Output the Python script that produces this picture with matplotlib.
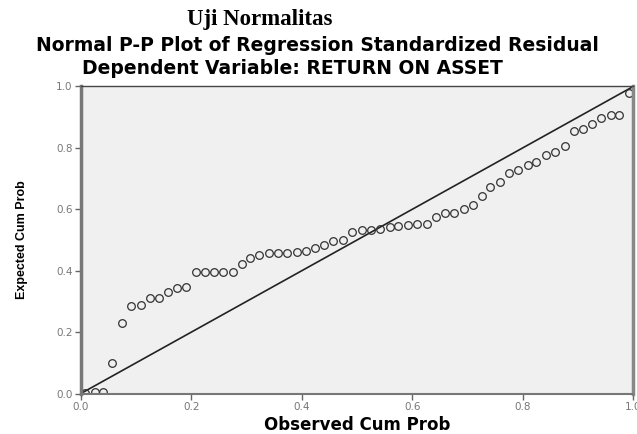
import matplotlib.pyplot as plt

# P-P plot values
observed = [0.007, 0.025, 0.040, 0.057, 0.075, 0.091, 0.108, 0.125, 0.142, 0.158,
            0.174, 0.191, 0.208, 0.225, 0.241, 0.258, 0.275, 0.291, 0.307, 0.323,
            0.341, 0.357, 0.374, 0.391, 0.408, 0.424, 0.440, 0.457, 0.475, 0.490,
            0.509, 0.525, 0.542, 0.559, 0.575, 0.593, 0.609, 0.626, 0.643, 0.659,
            0.676, 0.693, 0.710, 0.726, 0.741, 0.759, 0.776, 0.792, 0.809, 0.824,
            0.842, 0.859, 0.877, 0.892, 0.910, 0.925, 0.942, 0.959, 0.975, 0.993]
expected = [0.003, 0.004, 0.006, 0.100, 0.229, 0.286, 0.288, 0.310, 0.310, 0.332,
            0.343, 0.346, 0.396, 0.396, 0.396, 0.396, 0.396, 0.422, 0.440, 0.451,
            0.457, 0.459, 0.459, 0.460, 0.465, 0.473, 0.484, 0.498, 0.500, 0.527,
            0.533, 0.533, 0.535, 0.541, 0.546, 0.549, 0.552, 0.552, 0.574, 0.587,
            0.589, 0.600, 0.614, 0.642, 0.672, 0.690, 0.717, 0.728, 0.744, 0.755,
            0.777, 0.788, 0.806, 0.856, 0.861, 0.878, 0.896, 0.907, 0.907, 0.978]
ticks = [0.0, 0.2, 0.4, 0.6, 0.8, 1.0]
tick_labels = ['0.0', '0.2', '0.4', '0.6', '0.8', '1.0']

fig = plt.figure(figsize=(6.37, 4.34), dpi=100)
ax = fig.add_axes([0.127, 0.0933, 0.867, 0.7074])
ax.set_facecolor('#f0f0f0')

# reference diagonal
ax.plot([0, 1], [0, 1], color='#222222', lw=1.2)
ax.plot(observed, expected, 'o', ms=5.5, mfc='none', mec='#333333', mew=0.9)

ax.set_xlim(0, 1)
ax.set_ylim(0, 1)
ax.set_xticks(ticks)
ax.set_xticklabels(tick_labels)
ax.set_yticks(ticks)
ax.set_yticklabels(tick_labels)
ax.tick_params(direction='out', length=4, width=1, colors='#666666',
               labelsize=7.5, labelcolor='#777777', pad=2)

ax.spines['left'].set_linewidth(2.5)
ax.spines['left'].set_color('#777777')
ax.spines['right'].set_linewidth(2.5)
ax.spines['right'].set_color('#888888')
ax.spines['bottom'].set_linewidth(1.5)
ax.spines['bottom'].set_color('#777777')
ax.spines['top'].set_linewidth(1)
ax.spines['top'].set_color('#444444')

ax.set_xlabel('Observed Cum Prob', fontsize=12, fontweight='bold',
              family='DejaVu Sans', labelpad=3)
ax.set_ylabel('Expected Cum Prob', fontsize=9, family='Liberation Sans',
              fontweight='bold', labelpad=20)

fig.text(0.407, 0.954, 'Uji Normalitas', ha='center', va='center',
         fontsize=16.5, fontweight='bold', family='Liberation Serif')
fig.text(0.498, 0.895, 'Normal P-P Plot of Regression Standardized Residual',
         ha='center', va='center', fontsize=13.5, fontweight='bold', family='DejaVu Sans')
fig.text(0.459, 0.842, 'Dependent Variable: RETURN ON ASSET',
         ha='center', va='center', fontsize=13.5, fontweight='bold', family='DejaVu Sans')

fig.savefig('out.png', dpi=100)
